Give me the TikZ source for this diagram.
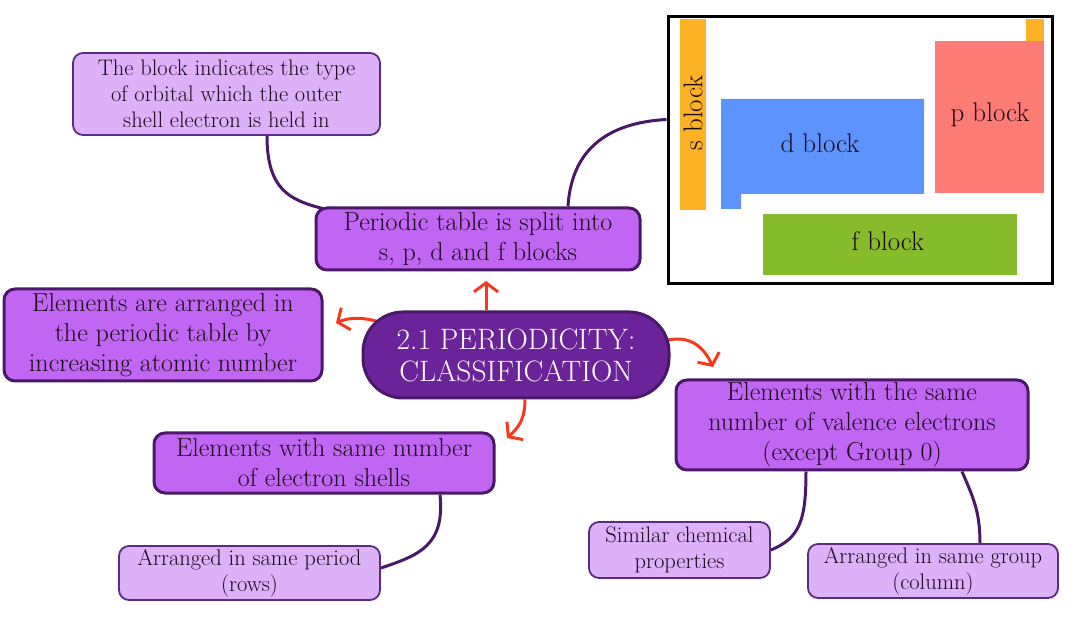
\documentclass[tikz,border=0pt]{standalone}
\usepackage{fontspec}
\usetikzlibrary{arrows.meta}
\definecolor{dpurple}{HTML}{6A2399}
\definecolor{bord}{HTML}{4A1868}
\definecolor{lbord}{HTML}{5C2A80}
\definecolor{mpurple}{HTML}{C066F2}
\definecolor{lpurple}{HTML}{DDB1F8}
\definecolor{arrowred}{HTML}{F5391C}
\definecolor{sorange}{HTML}{FDB124}
\definecolor{psalmon}{HTML}{FC7B74}
\definecolor{dblue}{HTML}{5C93FC}
\definecolor{fgreen}{HTML}{86BC2C}
\definecolor{txt}{HTML}{1A0A1A}
\pgfdeclarelayer{bg}\pgfsetlayers{bg,main}
\begin{document}
\begin{tikzpicture}[x=1pt,y=-1pt,
 mainbox/.style={draw=bord, line width=3pt, fill=mpurple, rounded corners=11pt, align=center, inner sep=0pt, text=txt, font=\fontsize{26}{30}\selectfont},
 subbox/.style={draw=lbord, line width=1.8pt, fill=lpurple, rounded corners=10pt, align=center, inner sep=0pt, text=txt, font=\fontsize{22.5}{26}\selectfont},
 centerbox/.style={draw=bord, line width=3pt, fill=dpurple, rounded corners=40pt, align=center, inner sep=0pt, text=white, font=\fontsize{29.5}{32}\selectfont},
 conn/.style={draw=bord, line width=3pt},
 redarrow/.style={draw=arrowred, line width=3pt, -{Straight Barb[length=9pt,width=24pt]}},
 blocklabel/.style={text=txt, font=\fontsize{27}{30}\selectfont},
]
\useasboundingbox (0,0) rectangle (1080,620);

% periodic table
\node[draw=black, line width=3pt, minimum width=384pt, minimum height=267pt, inner sep=0pt] (ptable) at (860,150.5) {};
\fill[sorange] (680,19) rectangle (706,210);
\fill[sorange] (1026,19) rectangle (1044,41);
\fill[psalmon] (935,41) rectangle (1044,193);
\fill[dblue] (721,99) -- (924,99) -- (924,194) -- (741,194) -- (741,209) -- (721,209) -- cycle;
\fill[fgreen] (763,214) rectangle (1017,275);
\node[blocklabel, rotate=90] (sblk) at (693,113) {s block};
\node[blocklabel] (dblk) at (820,143) {d block};
\node[blocklabel] (pblk) at (990,115) {p block};
\node[blocklabel] (fblk) at (888,241) {f block};

% central
\node[centerbox, minimum width=306pt, minimum height=86pt] (center) at (516,355) {2.1 PERIODICITY:\\CLASSIFICATION};

% main boxes
\node[mainbox, minimum width=324pt, minimum height=62pt] (split) at (478,239) {Periodic table is split into\\s, p, d and f blocks};
\node[mainbox, minimum width=318pt, minimum height=92pt] (arranged) at (163,335) {Elements are arranged in\\the periodic table by\\increasing atomic number};
\node[mainbox, minimum width=340pt, minimum height=60pt] (shells) at (324,463) {Elements with same number\\of electron shells};
\node[mainbox, minimum width=352pt, minimum height=90pt] (valence) at (852,425) {Elements with the same\\number of valence electrons\\(except Group 0)};

% sub boxes
\node[subbox, minimum width=307pt, minimum height=82pt] (orbital) at (226.5,94) {The block indicates the type\\of orbital which the outer\\shell electron is held in};
\node[subbox, minimum width=261pt, minimum height=54pt] (period) at (249.5,573) {Arranged in same period\\(rows)};
\node[subbox, minimum width=181pt, minimum height=56pt] (similar) at (679.5,550) {Similar chemical\\properties};
\node[subbox, minimum width=250pt, minimum height=54pt] (group) at (933,571) {Arranged in same group\\(column)};

\begin{pgfonlayer}{bg}
\draw[conn] ([xshift=40.5pt]orbital.south) .. controls (267,190) and (290,200) .. ([xshift=8pt,yshift=-2pt]split.north west);
\draw[conn] ([xshift=90pt]split.north) .. controls (572,140) and (620,122) .. ([yshift=31pt]ptable.west);
\draw[conn] ([xshift=116pt]shells.south) .. controls (445,545) and (420,555) .. ([yshift=5pt]period.east);
\draw[conn] ([xshift=-46pt]valence.south) .. controls (806,520) and (800,538) .. (similar.east);
\draw[conn] ([xshift=110pt]valence.south) .. controls (972,495) and (980,510) .. ([xshift=47pt]group.north);

\draw[redarrow] ([xshift=-30pt]center.north) -- (486,281);
\draw[redarrow] (382,323) .. controls (365,317) and (350,317) .. (336,323);
\draw[redarrow] (668,340) .. controls (693,335) and (705,350) .. (713,367);
\draw[redarrow] ([xshift=9pt]center.south) .. controls (525,420) and (518,428) .. (507,438);
\end{pgfonlayer}
\end{tikzpicture}
\end{document}
